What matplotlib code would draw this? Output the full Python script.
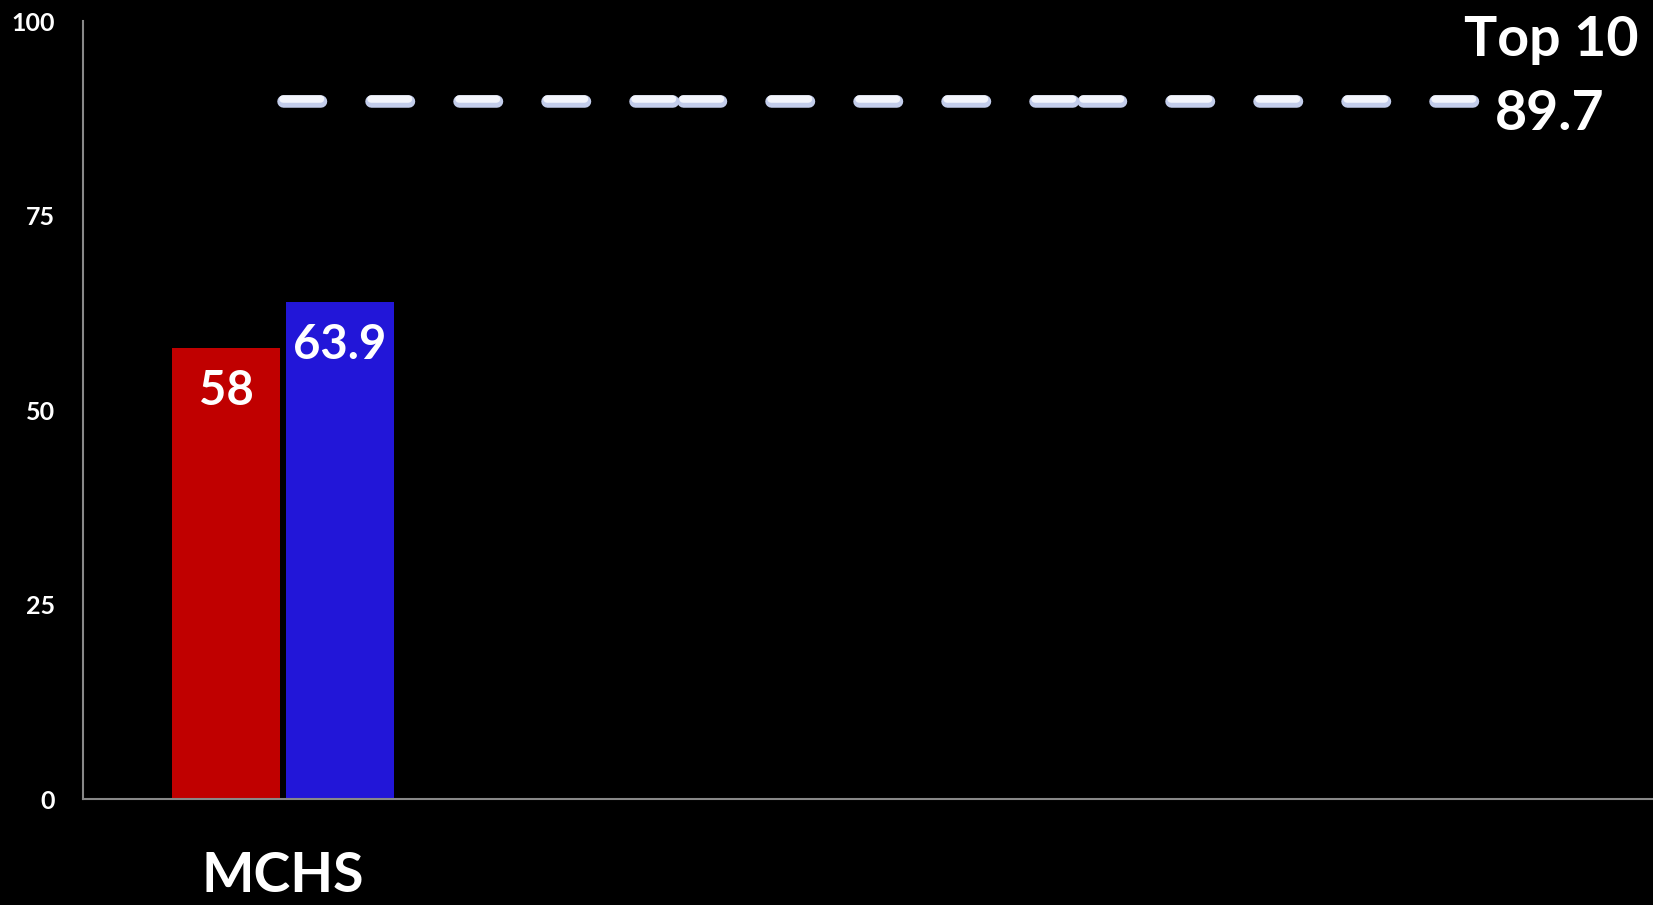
import matplotlib
matplotlib.use("Agg")
import matplotlib.pyplot as plt
import matplotlib.patheffects as pe
import numpy as np

categories = ["MCHS", "", "", ""]
red_values = [58]
blue_values = [63.9]
top10_values = [89.7, 89.7, 89.7, 89.7]
top10_name = "Top 10"
yticks = [0, 25, 50, 75, 100]

plt.rcParams["font.family"] = ["Lato", "DejaVu Sans"]
plt.rcParams["font.weight"] = "bold"
plt.rcParams["lines.scale_dashes"] = False

DPI = 100
PX = 72 / DPI  # points per pixel

fig = plt.figure(figsize=(16.53, 9.05), dpi=DPI, facecolor="black")
ax = fig.add_axes([83 / 1653, 1 - 799 / 905, 1 - 83 / 1653, (799 - 21) / 905])
ax.set_facecolor("black")

x = np.arange(len(categories))
w = 0.27
off = 0.1425
nb = len(red_values)
ax.bar(x[:nb] - off, red_values, width=w, color="#C00000", zorder=2)
ax.bar(x[:nb] + off, blue_values, width=w, color="#2216D8", zorder=2)

for xi, v in zip(x[:nb] - off, red_values):
    ax.annotate(f"{v:g}", (xi, v), xytext=(0, -43 * PX), textcoords="offset points",
                ha="center", va="center", color="white", fontsize=34, fontweight="bold")
for xi, v in zip(x[:nb] + off, blue_values):
    ax.annotate(f"{v:g}", (xi, v), xytext=(0, -43 * PX), textcoords="offset points",
                ha="center", va="center", color="white", fontsize=34, fontweight="bold")

# dashed reference line, pattern restarts at every point
lw = 12.5 * PX
for i in range(len(top10_values) - 1):
    ax.plot(x[i:i + 2], top10_values[i:i + 2], color="#eef1fa", lw=lw,
            dashes=(37.5 * PX, 50.5 * PX), dash_capstyle="round", zorder=3,
            path_effects=[pe.Stroke(linewidth=lw, foreground="#c3cdeb"),
                          pe.Stroke(linewidth=lw * 0.6, foreground="#f3f5fc", offset=(0, 1.5))])

last = len(top10_values) - 1
ax.annotate(f"{top10_values[last]:g}", (x[last], top10_values[last]), xytext=(12 * PX, -13 * PX),
            textcoords="offset points", ha="left", va="center", color="white",
            fontsize=40, fontweight="bold")
ax.annotate(top10_name, (x[last], top10_values[last]), xytext=(68 * PX, 45 * PX),
            textcoords="offset points", ha="center", va="baseline", color="white",
            fontsize=40, fontweight="bold")

ax.set_xlim(-0.5, -0.5 + 1570 / 400)
ax.set_ylim(0, 100)
ax.set_yticks(yticks)
ax.set_yticklabels([str(t) for t in yticks])
ax.set_xticks(x)
ax.set_xticklabels(categories)
ax.tick_params(axis="y", length=0, pad=28 * PX, labelcolor="white", labelsize=18)
ax.tick_params(axis="x", length=0, pad=52 * PX, labelcolor="white", labelsize=40)
for lab in ax.get_xticklabels() + ax.get_yticklabels():
    lab.set_fontweight("bold")

for s in ["top", "right"]:
    ax.spines[s].set_visible(False)
for s in ["left", "bottom"]:
    ax.spines[s].set_color("#888888")
    ax.spines[s].set_linewidth(1.5)

fig.savefig("out.png", dpi=DPI, facecolor="black")
